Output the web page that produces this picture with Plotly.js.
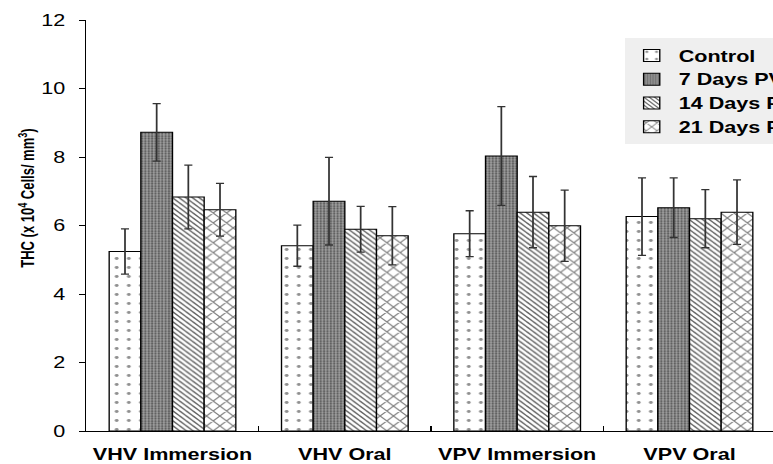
<!DOCTYPE html>
<html>
<head>
<meta charset="utf-8">
<script src="https://cdn.plot.ly/plotly-3.0.1.min.js"></script>
<style>
html,body{margin:0;padding:0;background:#fff;overflow:hidden;}
#wrap{width:773px;height:464px;overflow:hidden;position:relative;}
#chart{width:620px;height:464px;transform:scaleX(1.349);transform-origin:0 0;}
</style>
</head>
<body>
<div id="wrap"><div id="chart"></div></div>
<script>
const categories = ["VHV Immersion", "VHV Oral", "VPV Immersion", "VPV Oral"];
const seriesNames = ["Control", "7 Days PV", "14 Days PV", "21 Days PV"];
const control = [5.24, 5.41, 5.76, 6.26];
const controlErr = [0.66, 0.60, 0.67, 1.13];
const day7 = [8.72, 6.71, 8.03, 6.52];
const day7Err = [0.84, 1.28, 1.44, 0.87];
const day14 = [6.83, 5.89, 6.39, 6.20];
const day14Err = [0.93, 0.67, 1.04, 0.85];
const day21 = [6.46, 5.70, 5.99, 6.39];
const day21Err = [0.77, 0.85, 1.04, 0.94];
const yTicks = [0, 2, 4, 6, 8, 10, 12];

const values = [control, day7, day14, day21];
const errs = [controlErr, day7Err, day14Err, day21Err];
const patterns = [
  {shape: ".", bgcolor: "#ffffff", fgcolor: "#909090", size: 9, solidity: 0.08, fillmode: "replace"},
  {shape: ".", bgcolor: "#a0a0a0", fgcolor: "#5a5a5a", size: 2.5, solidity: 0.45, fillmode: "replace"},
  {shape: "\\", bgcolor: "#ffffff", fgcolor: "#606060", size: 3.5, solidity: 0.35, fillmode: "replace"},
  {shape: "x", bgcolor: "#ffffff", fgcolor: "#808080", size: 7, solidity: 0.28, fillmode: "replace"}
];

const data = values.map((v, i) => ({
  type: "bar",
  name: seriesNames[i],
  x: categories,
  y: v,
  marker: {color: "#ffffff", pattern: patterns[i], line: {color: "#000000", width: 1}},
  error_y: {type: "data", array: errs[i], visible: true, color: "#333333", thickness: 1.3, width: 3}
}));

const layout = {
  width: 620, height: 464,
  margin: {l: 63.75, r: 44.8, t: 19.6, b: 33, pad: 0},
  paper_bgcolor: "#ffffff", plot_bgcolor: "#ffffff",
  barmode: "group", bargap: 0.265, bargroupgap: 0,
  font: {family: "Liberation Sans, Arial, sans-serif", color: "#000"},
  showlegend: true,
  legend: {
    x: 0.781, y: 0.955, xanchor: "left", yanchor: "top",
    bgcolor: "#efefef", borderwidth: 0,
    font: {family: "Liberation Sans, Arial, sans-serif", size: 16, weight: "bold", color: "#000"},
    itemwidth: 30, tracegroupgap: 0, traceorder: "normal"
  },
  xaxis: {
    type: "category", range: [-0.5, 3.5],
    showline: true, linecolor: "#000", linewidth: 1,
    ticks: "inside", ticklen: 5, tickcolor: "#000", tickson: "boundaries",
    tickangle: 0, ticklabelstandoff: 9,
    tickfont: {family: "Liberation Sans, Arial, sans-serif", size: 16, weight: "bold", color: "#000"},
    showgrid: false, zeroline: false, fixedrange: true
  },
  yaxis: {
    range: [0, 12], tickvals: yTicks, ticktext: yTicks.map(String),
    showline: true, linecolor: "#000", linewidth: 1,
    ticks: "outside", ticklen: 4.5, tickcolor: "#000",
    ticklabelstandoff: 7,
    tickfont: {family: "Liberation Sans, Arial, sans-serif", size: 16, color: "#000"},
    showgrid: false, zeroline: false, fixedrange: true
  },
  annotations: [{
    xref: "paper", yref: "paper", x: -0.0853, y: 0.566,
    xanchor: "center", yanchor: "middle", textangle: -90, showarrow: false,
    text: "THC (x 10<sup>4</sup> Cells/ mm<sup>3</sup>)",
    font: {family: "Liberation Sans, Arial, sans-serif", size: 13, weight: "bold", color: "#000"}
  }]
};

Plotly.newPlot("chart", data, layout, {displayModeBar: false, staticPlot: true});
</script>
</body>
</html>
